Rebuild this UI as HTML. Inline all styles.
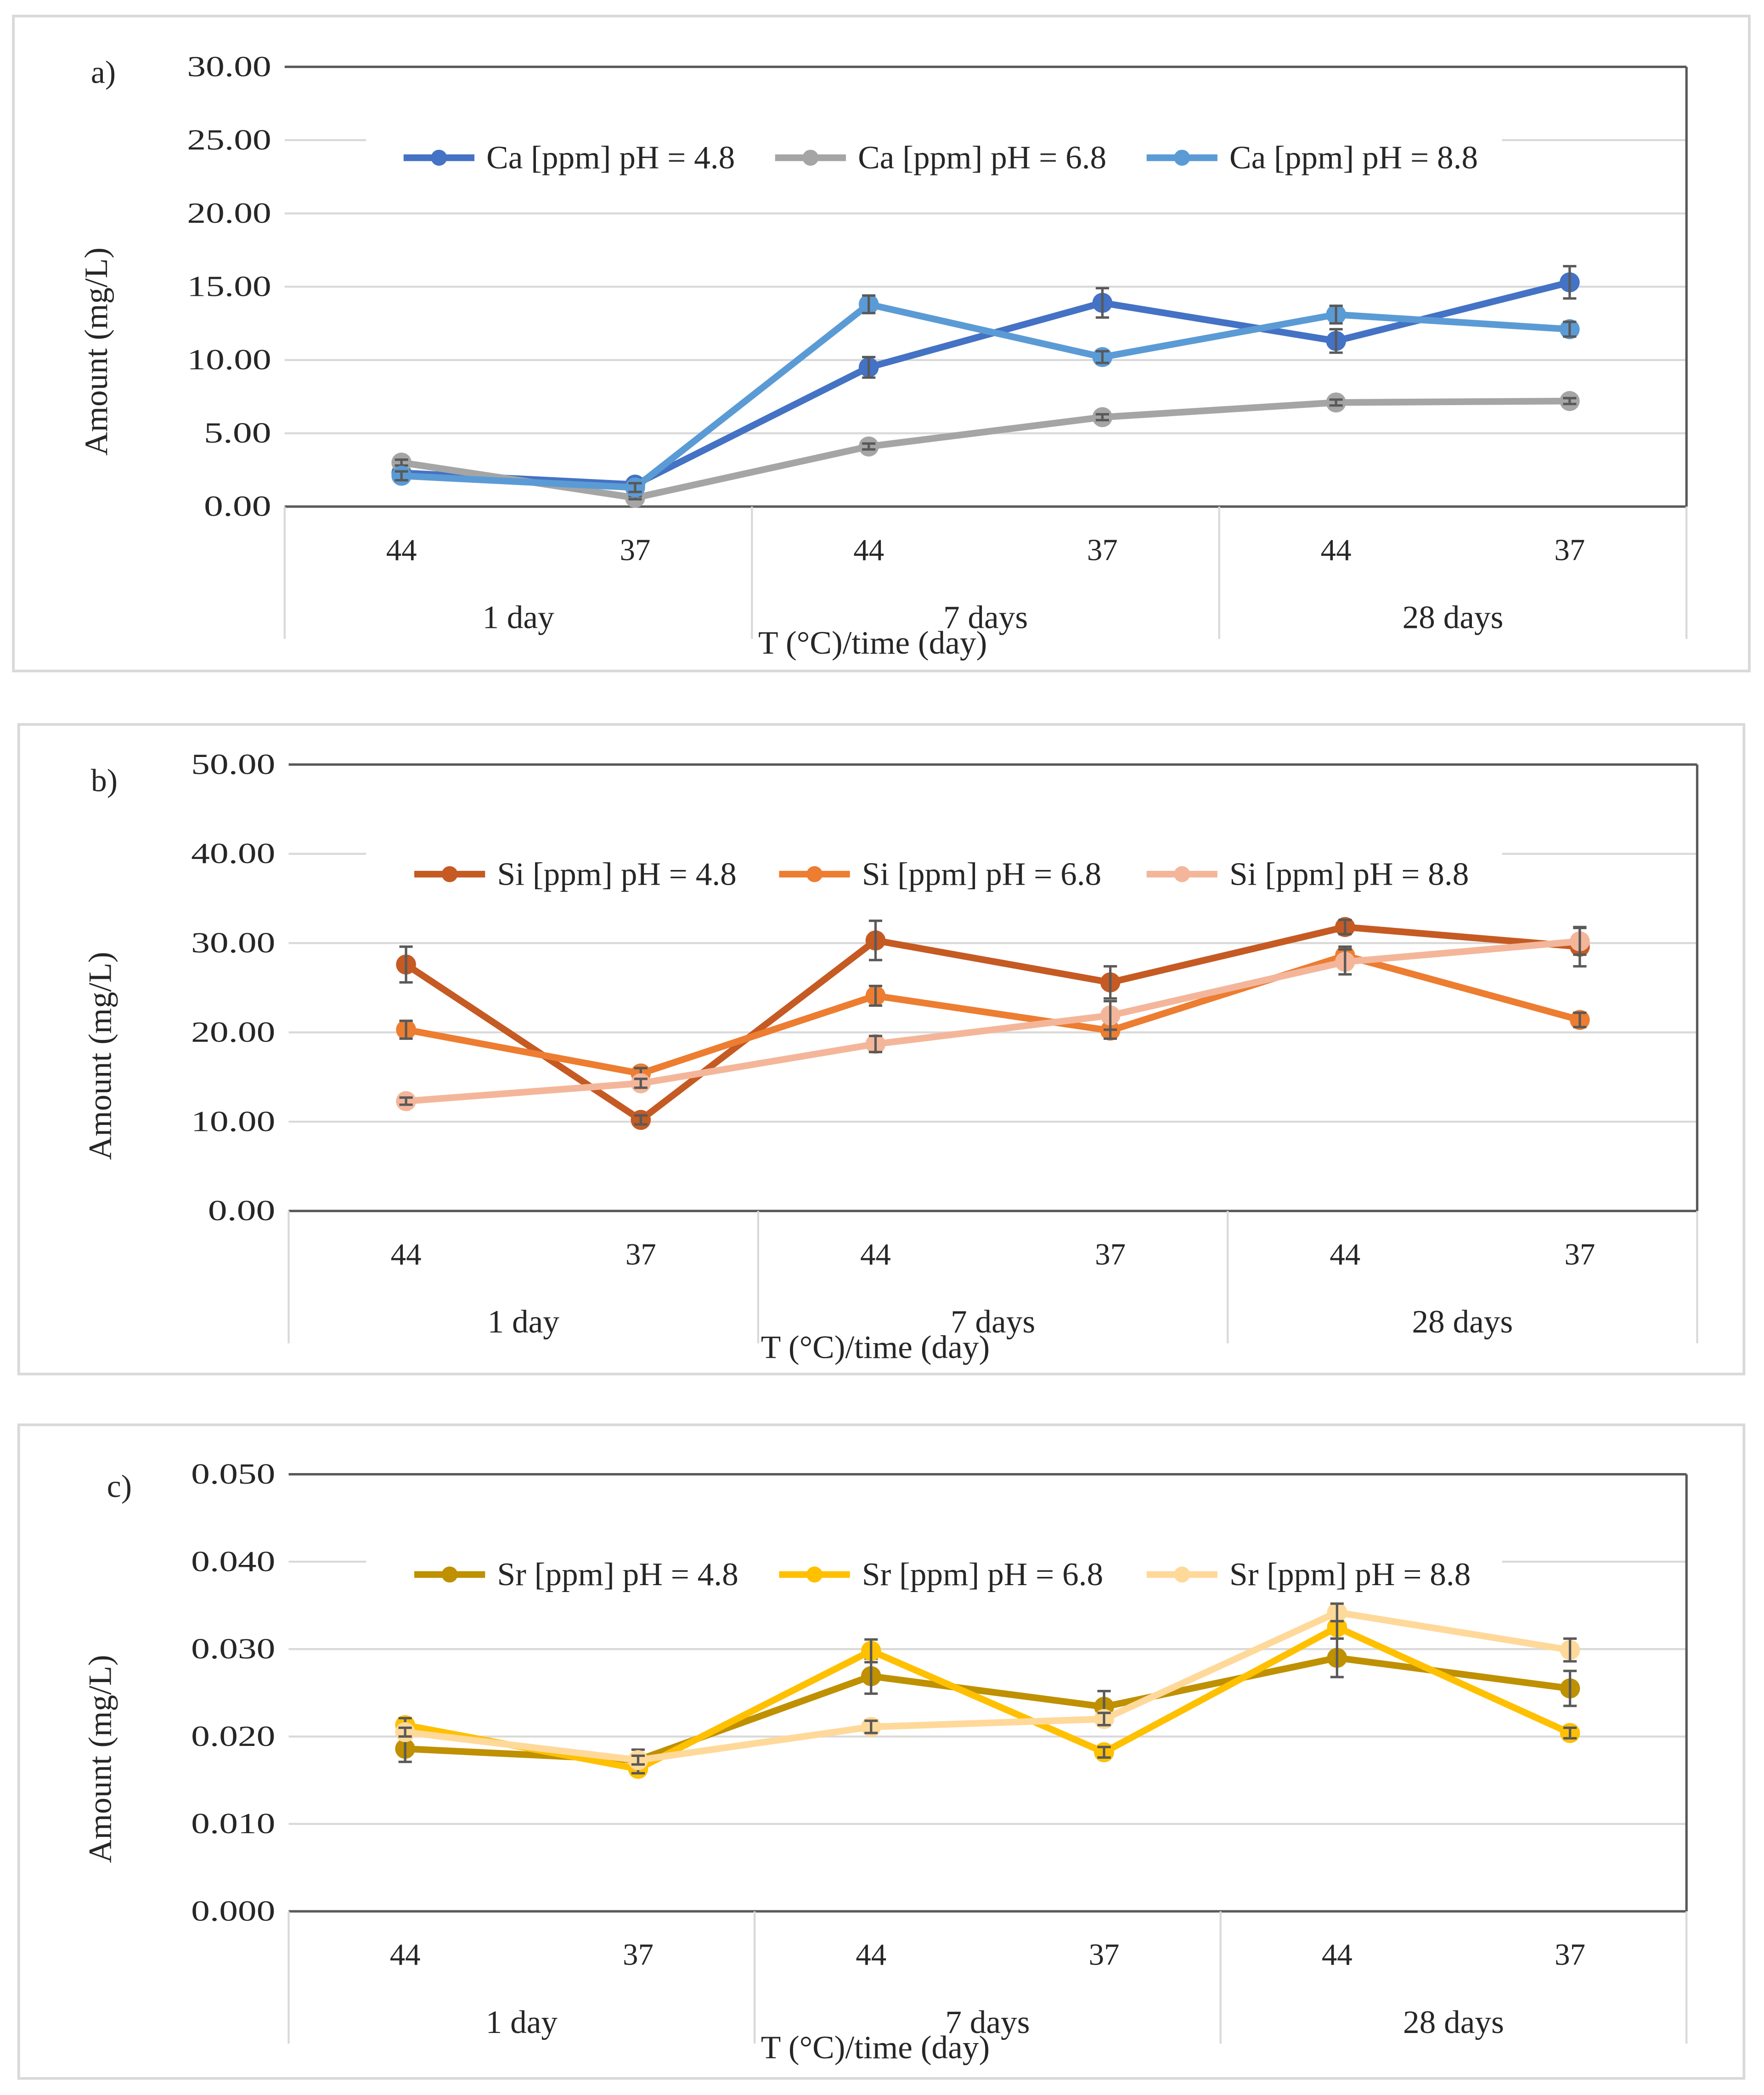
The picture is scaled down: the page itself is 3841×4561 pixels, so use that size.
<!DOCTYPE html>
<html><head><meta charset="utf-8">
<style>
html,body{margin:0;padding:0;background:#fff;}
svg{display:block;}
text{font-family:"Liberation Serif",serif;fill:#262626;}
</style></head>
<body>
<svg id="fig" width="3841" height="4561" viewBox="0 0 1320 1567.4" xmlns="http://www.w3.org/2000/svg"></svg>
<script>
const categories = ["44","37","44","37","44","37"];
const groups = ["1 day","7 days","28 days"];

const caTicks = ["0.00","5.00","10.00","15.00","20.00","25.00","30.00"];
const caNames = ["Ca [ppm] pH = 4.8","Ca [ppm] pH = 6.8","Ca [ppm] pH = 8.8"];
const ca48 = [2.3,1.5,9.5,13.9,11.3,15.3];
const ca48err = [0.5,0.3,0.7,1.0,0.8,1.1];
const ca68 = [3.0,0.6,4.1,6.1,7.1,7.2];
const ca68err = [0.2,0.1,0.2,0.2,0.2,0.2];
const ca88 = [2.1,1.3,13.8,10.2,13.1,12.1];
const ca88err = [0.3,0.3,0.6,0.4,0.6,0.5];

const siTicks = ["0.00","10.00","20.00","30.00","40.00","50.00"];
const siNames = ["Si [ppm] pH = 4.8","Si [ppm] pH = 6.8","Si [ppm] pH = 8.8"];
const si48 = [27.6,10.2,30.3,25.6,31.8,29.6];
const si48err = [2.0,0.5,2.2,1.8,0.8,2.2];
const si68 = [20.3,15.4,24.1,20.2,28.6,21.4];
const si68err = [1.0,0.6,1.1,0.9,1.0,0.8];
const si88 = [12.3,14.3,18.7,21.9,27.9,30.2];
const si88err = [0.4,0.5,0.9,1.6,1.4,1.5];

const srTicks = ["0.000","0.010","0.020","0.030","0.040","0.050"];
const srNames = ["Sr [ppm] pH = 4.8","Sr [ppm] pH = 6.8","Sr [ppm] pH = 8.8"];
const sr48 = [0.0186,0.0173,0.0269,0.0234,0.0290,0.0255];
const sr48err = [0.0015,0.0012,0.0020,0.0018,0.0022,0.0020];
const sr68 = [0.0213,0.0163,0.0298,0.0182,0.0325,0.0204];
const sr68err = [0.0008,0.0005,0.0013,0.0006,0.0013,0.0006];
const sr88 = [0.0205,0.0173,0.0211,0.0220,0.0342,0.0299];
const sr88err = [0.0005,0.0005,0.0007,0.0007,0.0010,0.0013];

const NS="http://www.w3.org/2000/svg";
const svg=document.getElementById('fig');
function mk(tag,attrs,parent,txt){const e=document.createElementNS(NS,tag);for(const k in attrs)e.setAttribute(k,attrs[k]);if(txt!==undefined)e.textContent=txt;(parent||svg).appendChild(e);return e;}

function panel(cfg){
  const g=mk('g',{});
  
  
  const b=mk('rect',{x:cfg.box[0],y:cfg.box[1],width:cfg.box[2]-cfg.box[0],height:cfg.box[3]-cfg.box[1],fill:'#fff',stroke:'#d9d9d9','stroke-width':2},g);
  
  
  const L=cfg.plot[0],T=cfg.plot[1],R=cfg.plot[2],B=cfg.plot[3];
  const n=categories.length, step=(R-L)/n;
  const xs=i=>L+step*(i+0.5);
  const ys=v=>B-(v/cfg.max)*(B-T);
  cfg.ticks.forEach(t=>{
    const v=parseFloat(t), y=ys(v);
    const gl=mk('line',{x1:L,x2:R,y1:y,y2:y,stroke:'#d9d9d9','stroke-width':1.5},g);
    
    
    const tl=mk('text',{x:L-10,y:y+7,'text-anchor':'end','font-size':22,textLength:t.length*12.6,lengthAdjust:'spacingAndGlyphs'},g,t);
    
    
  });
  mk('line',{x1:L,x2:R,y1:T,y2:T,stroke:'#595959','stroke-width':1.8},g);
  mk('line',{x1:R,x2:R,y1:T,y2:B,stroke:'#595959','stroke-width':1.8},g);
  mk('line',{x1:L,x2:R,y1:B,y2:B,stroke:'#595959','stroke-width':1.8},g);
  for(let k=0;k<=3;k++){const x=L+k*2*step;mk('line',{x1:x,x2:x,y1:B,y2:B+99,stroke:'#d9d9d9','stroke-width':1.5},g);}
  categories.forEach((c,i)=>{
    const t=mk('text',{x:xs(i),y:B+40,'text-anchor':'middle','font-size':23},g,c);
    
    
  });
  groups.forEach((c,i)=>{
    const t=mk('text',{x:L+step*(2*i+1),y:B+91,'text-anchor':'middle','font-size':24.5},g,c);
    
    
  });
  const xt=mk('text',{x:cfg.xtx,y:B+110,'text-anchor':'middle','font-size':24.5},g,'T (°C)/time (day)');
  
  
  const yt=mk('text',{x:0,y:0,'text-anchor':'middle','font-size':24.5,transform:`translate(${cfg.ytx},${cfg.yty}) rotate(-90)`},g,'Amount (mg/L)');
  
  
  const pl=mk('text',{x:cfg.lab[0],y:cfg.lab[1],'font-size':24},g,cfg.id+')');
  
  
  const lg=mk('g',{},g);
  
  
  mk('rect',{x:274,y:cfg.legY-18,width:850,height:36,fill:'#fff'},lg);
  const lx=cfg.legX;
  cfg.series.forEach((s,i)=>{
    const e=mk('g',{},lg);
    
    
    mk('line',{x1:lx[i],x2:lx[i]+53,y1:cfg.legY,y2:cfg.legY,stroke:s.color,'stroke-width':5},e);
    mk('circle',{cx:lx[i]+26.5,cy:cfg.legY,r:6,fill:s.color},e);
    mk('text',{x:lx[i]+62,y:cfg.legY+8,'font-size':24.5},e,s.name);
  });
  cfg.series.forEach((s,si)=>{
    const sg=mk('g',{},g);
    
    
    const pts=s.vals.map((v,i)=>xs(i)+','+ys(v)).join(' ');
    const pl=mk('polyline',{points:pts,fill:'none',stroke:s.color,'stroke-width':5,'stroke-linejoin':'round'},sg);
    
    
    s.vals.forEach((v,i)=>{
      const c=mk('circle',{cx:xs(i),cy:ys(v),r:7.5,fill:s.color},sg);
      
      
    });
    s.err.forEach((e,i)=>{
      const x=xs(i),y1=ys(s.vals[i]+e),y2=ys(s.vals[i]-e);
      const eb=mk('path',{d:`M${x},${y1}V${y2}M${x-5},${y1}H${x+5}M${x-5},${y2}H${x+5}`,stroke:'#595959','stroke-width':1.8,fill:'none'},sg);
      
      
    });
  });
}

panel({id:'a',box:[10,12,1309,502],plot:[213,50,1262,379],max:30,ticks:caTicks,ytx:80,yty:263,xtx:653,lab:[68,62],legY:118,legX:[302,580,858],
  series:[{name:caNames[0],vals:ca48,err:ca48err,color:'#4472C4'},{name:caNames[1],vals:ca68,err:ca68err,color:'#A5A5A5'},{name:caNames[2],vals:ca88,err:ca88err,color:'#5B9BD5'}]});
panel({id:'b',box:[14,542,1305,1028],plot:[216,572,1270,906],max:50,ticks:siTicks,ytx:83,yty:790,xtx:655,lab:[68,592],legY:654,legX:[310,583,858],
  series:[{name:siNames[0],vals:si48,err:si48err,color:'#C55A23'},{name:siNames[1],vals:si68,err:si68err,color:'#ED7D31'},{name:siNames[2],vals:si88,err:si88err,color:'#F4B69A'}]});
panel({id:'c',box:[14,1066,1305,1555],plot:[216,1103,1262,1430],max:0.05,ticks:srTicks,ytx:83,yty:1316,xtx:655,lab:[80,1120],legY:1178,legX:[310,583,858],
  series:[{name:srNames[0],vals:sr48,err:sr48err,color:'#BF9000'},{name:srNames[1],vals:sr68,err:sr68err,color:'#FFC000'},{name:srNames[2],vals:sr88,err:sr88err,color:'#FFD99A'}]});
</script>
</body></html>
